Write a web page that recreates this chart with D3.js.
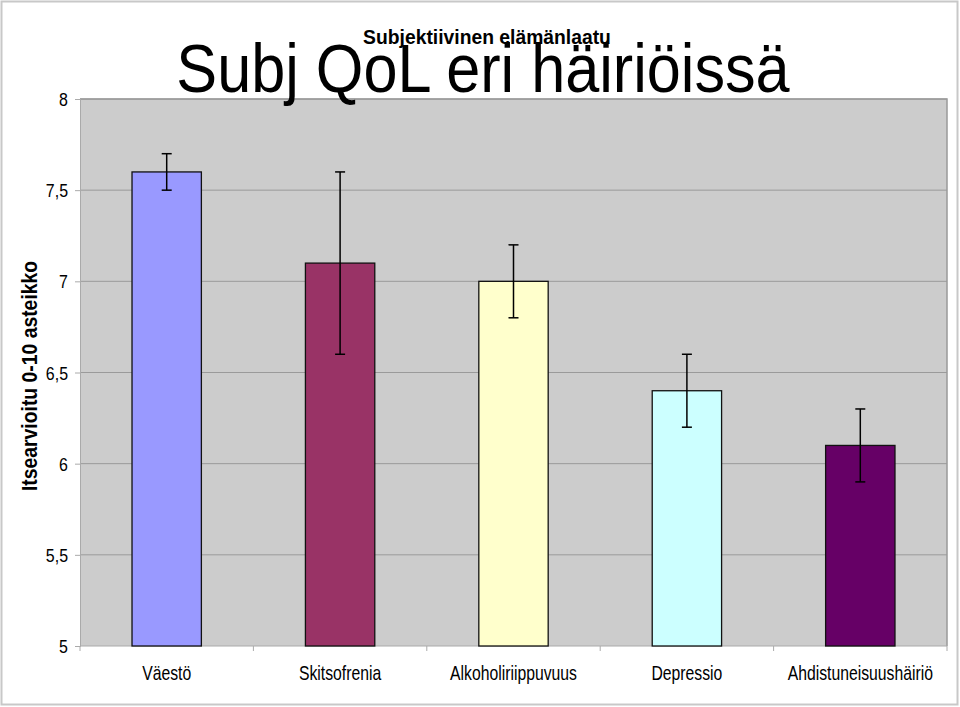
<!DOCTYPE html>
<html><head><meta charset="utf-8">
<script src="https://cdn.jsdelivr.net/npm/d3@7"></script>
<style>body{margin:0;background:#fff}svg{display:block}</style>
</head><body>
<script>
const categories = ["Väestö","Skitsofrenia","Alkoholiriippuvuus","Depressio","Ahdistuneisuushäiriö"];
const values = [7.6, 7.1, 7.0, 6.4, 6.1];
const errLow = [7.5, 6.6, 6.8, 6.2, 5.9];
const errHigh = [7.7, 7.6, 7.2, 6.6, 6.3];
const colors = ["#9999FF","#993366","#FFFFCC","#CCFFFF","#660066"];
const yTicks = [5, 5.5, 6, 6.5, 7, 7.5, 8];

(function(){
const W = 960, H = 707;
const FF = "Liberation Sans, Arial, sans-serif";
const svg = d3.select("body").append("svg").attr("width", W).attr("height", H);
const pL = 80, pR = 947, pT = 99, pB = 646;

svg.append("rect").attr("x",1.5).attr("y",1.5).attr("width",W-4).attr("height",H-4)
  .attr("fill","#fff").attr("stroke","#c8c8c8").attr("stroke-width",2);

const x = d3.scaleBand().domain(categories).range([pL, pR]).padding(0);
const y = d3.scaleLinear().domain([5, 8]).range([pB, pT]);

svg.append("rect").attr("x",pL).attr("y",pT).attr("width",pR-pL).attr("height",pB-pT)
  .attr("fill","#cccccc");

svg.append("g").selectAll("line").data(yTicks.slice(1)).join("line")
  .attr("x1",pL).attr("x2",pR).attr("y1",d=>y(d)).attr("y2",d=>y(d))
  .attr("stroke","#9a9a9a").attr("stroke-width",1);
svg.append("path").attr("d",`M${pL},${pT}H${pR}V${pB}`).attr("fill","none")
  .attr("stroke","#999").attr("stroke-width",1.5);

const fmt = d => String(d).replace(".", ",");
const yAxis = d3.axisLeft(y).tickValues(yTicks).tickFormat("").tickSize(5);
const yg = svg.append("g").attr("transform",`translate(${pL},0)`).call(yAxis);
yg.select(".domain").attr("stroke","#aaa");
yg.selectAll(".tick line").attr("stroke","#aaa");
svg.append("g").selectAll("text").data(yTicks).join("text")
  .attr("transform",d=>`translate(68,${y(d)+7}) scale(0.84,1)`)
  .attr("text-anchor","end").attr("font-family",FF).attr("font-size",19).attr("fill","#000")
  .text(fmt);

const xg = svg.append("g").attr("transform",`translate(0,${pB})`);
xg.append("line").attr("x1",pL).attr("x2",pR).attr("stroke","#aaa");
const bounds = d3.range(categories.length+1).map(i => pL + i*x.step());
xg.selectAll(".bt").data(bounds).join("line").attr("class","bt")
  .attr("x1",d=>d).attr("x2",d=>d).attr("y1",0).attr("y2",5).attr("stroke","#aaa");
xg.selectAll("text").data(categories).join("text")
  .attr("transform",d=>`translate(${x(d)+x.bandwidth()/2},34) scale(0.75,1)`)
  .attr("text-anchor","middle")
  .attr("font-family",FF).attr("font-size",21).text(d=>d);

const bw = x.bandwidth()*0.4;
svg.append("g").selectAll("rect").data(categories).join("rect")
  .attr("x",(d)=>x(d)+x.bandwidth()/2-bw/2)
  .attr("y",(d,i)=>y(values[i]))
  .attr("width",bw).attr("height",(d,i)=>y(5)-y(values[i]))
  .attr("fill",(d,i)=>colors[i]).attr("stroke","#111").attr("stroke-width",1.3);

const eg = svg.append("g").attr("stroke","#000").attr("stroke-width",1.5);
categories.forEach((c,i)=>{
  const cx = x(c)+x.bandwidth()/2;
  eg.append("line").attr("x1",cx).attr("x2",cx).attr("y1",y(errLow[i])).attr("y2",y(errHigh[i]));
  eg.append("line").attr("x1",cx-5).attr("x2",cx+5).attr("y1",y(errLow[i])).attr("y2",y(errLow[i]));
  eg.append("line").attr("x1",cx-5).attr("x2",cx+5).attr("y1",y(errHigh[i])).attr("y2",y(errHigh[i]));
});

svg.append("text").attr("transform","translate(487,43.5) scale(0.92,1)").attr("text-anchor","middle")
  .attr("font-family",FF).attr("font-weight","bold").attr("font-size",21)
  .text("Subjektiivinen elämänlaatu");
svg.append("text").attr("transform","translate(483,91.5) scale(0.9,1)").attr("text-anchor","middle")
  .attr("font-family",FF).attr("font-size",68)
  .text("Subj QoL eri häiriöissä");

svg.append("text").attr("transform","translate(37,376) rotate(-90) scale(0.88,1)").attr("text-anchor","middle")
  .attr("font-family",FF).attr("font-weight","bold").attr("font-size",22)
  .text("Itsearvioitu 0-10 asteikko");
})();
</script>
</body></html>
